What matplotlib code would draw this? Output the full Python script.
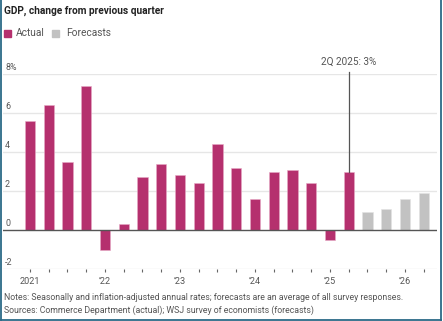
import matplotlib
matplotlib.use("Agg")
import matplotlib.pyplot as plt
from matplotlib.lines import Line2D
from matplotlib.patches import Rectangle
import matplotlib.transforms as mtransforms

plt.rcParams['font.family'] = ['Roboto', 'DejaVu Sans']

# data: quarterly GDP change, annualized %
actual = [5.6, 6.4, 3.5, 7.4, -1.0, 0.3, 2.7, 3.4, 2.8, 2.4, 4.4, 3.2,
          1.6, 3.0, 3.1, 2.4, -0.5, 3.0]
forecast = [0.9, 1.1, 1.6, 1.9]
year_labels = ["2021", "\u201922", "\u201923", "\u201924", "\u201925", "\u201926"]
y_ticks = [-2, 0, 2, 4, 6, 8]
y_labels = ["-2", "0", "2", "4", "6", "8%"]

MAGENTA = "#b5306e"
GREY = "#c2c2c2"
TEXT = "#555555"

W, H = 443, 321
fig = plt.figure(figsize=(W / 100, H / 100), dpi=100)


def fx(px):
    return px / W


def fy(py):
    return 1 - py / H


def fit(t, width_px):
    # scale font size so the text spans roughly width_px pixels
    r = fig.canvas.get_renderer()
    w = t.get_window_extent(renderer=r).width
    t.set_fontsize(t.get_fontsize() * width_px / w)


ax = fig.add_axes([fx(3), fy(269), fx(437) - fx(3), fy(74) - fy(269)])

n_act = len(actual)
x_act = list(range(n_act))
x_fc = list(range(n_act, n_act + len(forecast)))
n_all = n_act + len(forecast)

ax.bar(x_act, actual, width=0.54, color=MAGENTA, edgecolor="#e7a9c6",
       linewidth=0.4, zorder=3)
ax.bar(x_fc, forecast, width=0.54, color=GREY, edgecolor="#e2e2e2",
       linewidth=0.4, zorder=3)

ax.set_xlim(-1.44, 21.71)
ax.set_ylim(-2, 8)

for v in y_ticks:
    if v == 0:
        ax.axhline(0, color="#555555", lw=1.0, zorder=4)
    else:
        ax.axhline(v, color="#e6e6e6", lw=1.0, zorder=1)

# y labels sit inside the plot above their gridlines
trans = mtransforms.blended_transform_factory(fig.transFigure, ax.transData)
off = mtransforms.offset_copy(trans, fig=fig, x=0, y=1.2, units='points')
for v, lab in zip(y_ticks, y_labels):
    ax.text(fx(5), v, lab, transform=off, ha="left", va="bottom",
            fontsize=6.4, color=TEXT)

for s in ax.spines.values():
    s.set_visible(False)
ax.set_yticks([])
ax.set_xticks(range(n_all))
ax.set_xticklabels([year_labels[i // 4] if i % 4 == 0 else "" for i in range(n_all)],
                   fontsize=6.6, color=TEXT)
ax.tick_params(axis="x", length=2.5, width=0.8, color="#666666", pad=3)

# annotation for latest actual quarter
last = n_act - 1
ax.plot([last, last], [actual[last], 8.1], color="#555555", lw=0.9,
        clip_on=False, zorder=5)
ann = ax.text(last, 8.35, "2Q 2025: 3%", ha="center", va="bottom", fontsize=7,
              color=TEXT)
fit(ann, 56)

# title and legend
title = fig.text(fx(4), fy(11), "GDP, change from previous quarter", ha="left",
                 va="center", fontsize=7.2, fontweight="bold", color="#222222")
fit(title, 161)
fig.add_artist(Rectangle((fx(4), fy(37)), fx(7), fy(30) - fy(37),
                         transform=fig.transFigure, color=MAGENTA))
leg1 = fig.text(fx(16), fy(33), "Actual", ha="left", va="center", fontsize=7.8,
                color=TEXT)
fit(leg1, 29)
fig.add_artist(Rectangle((fx(52), fy(37)), fx(7), fy(30) - fy(37),
                         transform=fig.transFigure, color=GREY))
leg2 = fig.text(fx(66), fy(33), "Forecasts", ha="left", va="center",
                fontsize=leg1.get_fontsize(), color=TEXT)

# notes
n1 = fig.text(fx(4), fy(298), "Notes: Seasonally and inflation-adjusted annual rates; "
              "forecasts are an average of all survey responses.", ha="left",
              va="center", fontsize=6.4, color=TEXT)
fit(n1, 401)
fig.text(fx(4), fy(310), "Sources: Commerce Department (actual); WSJ survey of "
         "economists (forecasts)", ha="left", va="center",
         fontsize=n1.get_fontsize(), color=TEXT)

# frame on left, right, bottom
border = "#2b6a87"
fig.add_artist(Line2D([fx(0.8), fx(0.8)], [fy(0), fy(319.5)], color=border, lw=1.3))
fig.add_artist(Line2D([fx(441), fx(441)], [fy(0), fy(319.5)], color=border, lw=1.3))
fig.add_artist(Line2D([fx(0.8), fx(441)], [fy(319.5), fy(319.5)], color=border, lw=1.3))

fig.savefig("out.png", dpi=100)
